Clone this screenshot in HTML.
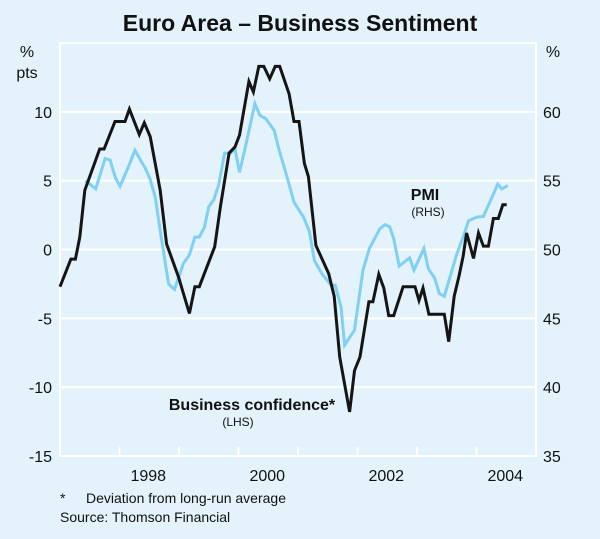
<!DOCTYPE html>
<html><head><meta charset="utf-8"><style>
html,body{margin:0;padding:0;background:#e3f2fb;}
svg{display:block;font-family:"Liberation Sans",Arial,sans-serif;}
</style></head><body>
<svg id="chart" width="600" height="539" viewBox="0 0 600 539">
<rect x="0" y="0" width="600" height="539" fill="#e3f2fb"/>
<text x="300" y="31" text-anchor="middle" font-size="23" font-weight="bold" fill="#111">Euro Area – Business Sentiment</text>
<g id="grid"></g>
<rect x="60" y="43" width="476" height="413" fill="none" stroke="#fff" stroke-width="2"/>
<g id="ticks"></g>
<g id="lylabels"></g>
<g id="rylabels"></g>
<g id="xlabels"></g>
<text x="27" y="57" text-anchor="middle" font-size="16" fill="#111">%</text>
<text x="27" y="78" text-anchor="middle" font-size="16" fill="#111">pts</text>
<text x="553" y="57" text-anchor="middle" font-size="16" fill="#111">%</text>
<g id="series"></g>
<text x="425" y="200" text-anchor="middle" font-size="16" font-weight="bold" fill="#111">PMI</text>
<text x="428" y="216" text-anchor="middle" font-size="12" fill="#111">(RHS)</text>
<text x="252" y="410" text-anchor="middle" font-size="16" font-weight="bold" fill="#111">Business confidence*</text>
<text x="238" y="426" text-anchor="middle" font-size="12" fill="#111">(LHS)</text>
<text x="60" y="503" font-size="14" fill="#111">*</text>
<text x="86" y="503" font-size="14" fill="#111">Deviation from long-run average</text>
<text x="60" y="522" font-size="14" fill="#111">Source: Thomson Financial</text>
</svg>
<script>
// month index since Jan 1997
const bcMonths=[0,2.2,3.1,4,5,8,8.9,11.1,13.1,14,16,17,18.2,20.2,21.5,23.9,26.1,27.2,28.1,31.2,32.4,34.1,35.3,36.2,38.1,39,40.1,41.1,42.3,43.4,44.3,46.2,47.2,48.2,49.3,50.1,51.6,54.2,55.3,56.4,58.4,59.4,60.5,62.3,63.1,64.3,65.3,66.3,67.3,69.2,71.6,72.4,73.2,74.4,77.5,78.4,79.5,80.5,81.3,82,83.4,84.4,85.4,86.4,87.4,88.4,89.3,90.1];
const bcValues=[-2.7,-0.7,-0.7,0.9,4.3,7.3,7.3,9.3,9.3,10.2,8.35,9.2,8.2,4.3,0.4,-2,-4.65,-2.7,-2.7,0.2,3.2,7,7.45,8.3,12.2,11.45,13.3,13.3,12.4,13.3,13.3,11.3,9.3,9.3,6.25,5.3,0.3,-1.75,-3.4,-7.8,-11.8,-8.8,-7.8,-3.8,-3.8,-1.8,-2.8,-4.8,-4.8,-2.7,-2.7,-3.7,-2.8,-4.7,-4.7,-6.7,-3.4,-1.9,-0.5,1.2,-0.65,1.2,0.25,0.25,2.25,2.25,3.25,3.25];
const pmiMonths=[5.1,7.2,9.1,10.1,11.2,12.1,13.8,15.1,17.2,18.2,19.2,20.5,21.9,23.1,24.9,26.1,27.2,28.1,29.1,30,31,32,33.2,34.4,35.3,36.2,37.4,39.3,40.3,41.5,43.2,44.2,45.4,47.2,49.1,50.3,51.3,52.8,54.7,55.5,56.7,57.4,59.4,61.1,62.4,64.5,65.5,66.5,67.3,68.4,70.5,71.4,73.4,74.3,75.6,76.5,77.5,80,81.3,82.4,84.1,85.4,88.3,89.1,90.3];
const pmiValues=[55,54.4,56.6,56.5,55.2,54.6,56,57.2,55.9,55.1,53.8,50.7,47.5,47.1,49,49.6,50.9,50.9,51.6,53.1,53.6,54.7,57,57,57.3,55.6,57.45,60.6,59.75,59.5,58.65,57.2,55.75,53.45,52.35,51.3,49.2,48.25,47.4,47.4,45.8,43.05,44.15,48.5,50.07,51.5,51.8,51.65,50.8,48.8,49.4,48.5,50.07,48.6,47.9,46.8,46.6,49.65,50.9,52.1,52.35,52.4,54.75,54.4,54.65];
const leftTicks=[-15,-10,-5,0,5,10,15];
const rightTicks=[35,40,45,50,55,60,65];
const yearLabels=["1998","2000","2002","2004"];
const yearLabelPos=[1998,2000,2002,2004];
const yearTicks=[1998,1999,2000,2001,2002,2003,2004];

const X0=60,X1=536,Y0=43,Y1=456;
const monthsTotal=96;
const xM=m=>X0+(m/monthsTotal)*(X1-X0);
const xY=y=>xM((y-1997)*12);
const yL=v=>Y1-(v+15)/30*(Y1-Y0);
const yR=v=>Y1-(v-35)/30*(Y1-Y0);
const NS='http://www.w3.org/2000/svg';
function mk(tag,attrs,parent){const e=document.createElementNS(NS,tag);for(const k in attrs)e.setAttribute(k,attrs[k]);parent.appendChild(e);return e;}

const grid=document.getElementById('grid');
leftTicks.forEach(v=>{if(v===-15||v===15)return;
 const l=mk('line',{x1:X0,x2:X1,y1:yL(v),y2:yL(v),stroke:'#fff','stroke-width':2},grid);
 
 });
const ticks=document.getElementById('ticks');
yearTicks.forEach(y=>{const l=mk('line',{x1:xY(y),x2:xY(y),y1:Y1,y2:Y1-9,stroke:'#fff','stroke-width':2},ticks);
 
 });
const ll=document.getElementById('lylabels');
leftTicks.forEach(v=>{if(v===15)return;const t=mk('text',{x:52,y:yL(v)+6,'text-anchor':'end','font-size':16,fill:'#111'},ll);t.textContent=String(v);
 
 });
const rl=document.getElementById('rylabels');
rightTicks.forEach(v=>{if(v===65)return;const t=mk('text',{x:543,y:yR(v)+6,'font-size':16,fill:'#111'},rl);t.textContent=String(v);
 
 });
const xl=document.getElementById('xlabels');
yearLabels.forEach((s,i)=>{const t=mk('text',{x:xY(yearLabelPos[i]+0.5)-1,y:481,'text-anchor':'middle','font-size':16,fill:'#111'},xl);t.textContent=s;
 
 });
const sg=document.getElementById('series');
const pmiPath=mk('polyline',{points:pmiMonths.map((m,i)=>xM(m).toFixed(1)+','+yR(pmiValues[i]).toFixed(1)).join(' '),fill:'none',stroke:'#7fd0f3','stroke-width':3,'stroke-linejoin':'miter'},sg);


const bcPath=mk('polyline',{points:bcMonths.map((m,i)=>xM(m).toFixed(1)+','+yL(bcValues[i]).toFixed(1)).join(' '),fill:'none',stroke:'#151515','stroke-width':3,'stroke-linejoin':'miter'},sg);


</script>
</body></html>
